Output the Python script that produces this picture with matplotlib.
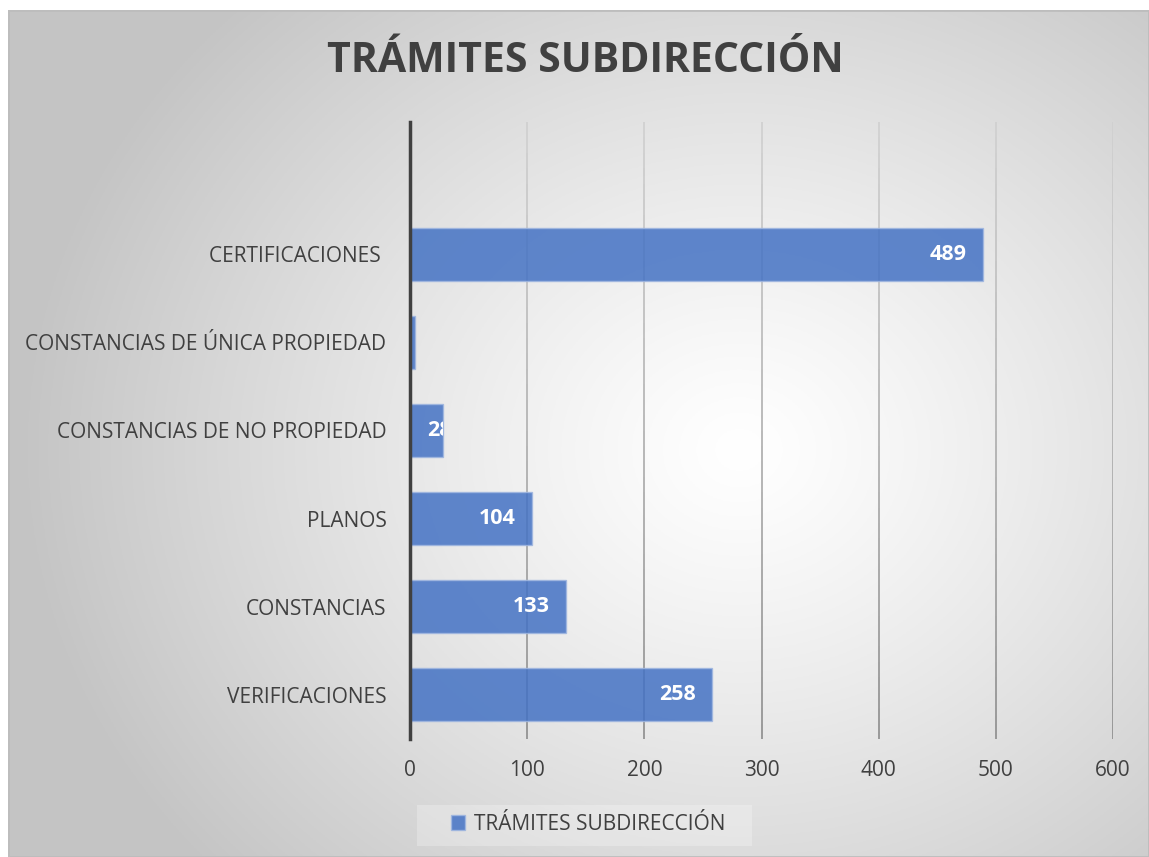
import numpy as np
import matplotlib
matplotlib.use("Agg")
from matplotlib import pyplot as plt
from matplotlib.patches import Patch, Rectangle
from matplotlib.collections import LineCollection

categories = ["VERIFICACIONES", "CONSTANCIAS", "PLANOS",
              "CONSTANCIAS DE NO PROPIEDAD", "CONSTANCIAS DE ÚNICA PROPIEDAD",
              "CERTIFICACIONES ", ""]
values = [258, 133, 104, 28, 4, 489, 0]
xticks = [0, 100, 200, 300, 400, 500, 600]
title = "TRÁMITES SUBDIRECCIÓN"
series_name = "TRÁMITES SUBDIRECCIÓN"

plt.rcParams['font.family'] = ['Open Sans', 'DejaVu Sans']
W, H = 1149, 857
fig = plt.figure(figsize=(W/100, H/100), dpi=100)
fig.patch.set_facecolor('white')

# radial gradient background of the chart area
bx0, by_top = 8, 10
bg = fig.add_axes([bx0/W, 0, 1-bx0/W, 1-by_top/H], zorder=-5)
gx, gy = np.meshgrid(np.linspace(bx0, W, 400), np.linspace(by_top, H, 300))
r = np.sqrt((gx-740)**2 + ((gy-450)*1.15)**2) / 720
shade = 1 - 0.23*np.clip(r, 0, 1)**1.2
bg.imshow(np.dstack([shade]*3), aspect='auto', extent=[0, 1, 0, 1])
bg.axis('off')
bg.add_patch(Rectangle((0, 0), 1, 1, transform=bg.transAxes, fill=False,
                       edgecolor='#bdbdbd', lw=2))

ax = fig.add_axes([410/W, 1-739/H, (1113-410)/W, (739-122)/H])
ax.patch.set_visible(False)
ypos = np.arange(len(categories))
bars = ax.barh(ypos, values, height=0.6, color='#4472c4', alpha=0.85,
               edgecolor='#9fb6e0', lw=1, zorder=3)
ax.set_xlim(0, 600)
ax.set_ylim(-0.5, len(categories)-0.5)
ax.set_xticks(xticks)
ax.set_yticks(ypos)
ax.set_yticklabels(categories)
ax.tick_params(axis='y', length=0, pad=17, labelsize=15, labelcolor='#404040')
ax.tick_params(axis='x', length=0, pad=15, labelsize=15, labelcolor='#404040')

# gridlines: lighter at the top, darker near the axis
nseg = 40
ys = np.linspace(-0.5, len(categories)-0.5, nseg+1)
segs, cols = [], []
for xt in xticks[1:]:
    for i in range(nseg):
        segs.append([(xt, ys[i]), (xt, ys[i+1])])
        g = 0.55 + 0.27*(i/nseg)
        cols.append((g, g, g))
ax.add_collection(LineCollection(segs, colors=cols, lw=1.2, zorder=1))

for s in ['top', 'right', 'bottom']:
    ax.spines[s].set_visible(False)
ax.spines['left'].set_color('#404040')
ax.spines['left'].set_linewidth(2.5)
ax.spines['left'].set_zorder(4)

for b, v in zip(bars, values):
    if v < 14:   # label would fall completely outside the bar
        continue
    ha = 'right' if v >= 60 else 'left'
    t = ax.annotate(str(v), (v, b.get_y()+b.get_height()/2), xytext=(-11.5, 0),
                    textcoords='offset points', ha=ha, va='center',
                    color='white', fontsize=15.5, fontweight='bold', zorder=5)
    t.set_clip_path(b)

fig.text(585/W, 1-62/H, title, ha='center', va='center', fontsize=29.5,
         fontweight='bold', color='#404040')

fig.patches.append(Rectangle((417/W, 1-846/H), 335/W, 41/H, transform=fig.transFigure,
                             facecolor='white', alpha=0.25, edgecolor='none', zorder=0))
leg = fig.legend(handles=[Patch(facecolor='#4472c4', alpha=0.85, edgecolor='#9fb6e0')],
                 labels=[series_name], loc='center', bbox_to_anchor=(588/W, 1-824/H),
                 fontsize=15, frameon=False, handlelength=0.7, handleheight=0.7,
                 handletextpad=0.4)
for t in leg.get_texts():
    t.set_color('#404040')

fig.savefig('out.png', dpi=100)
